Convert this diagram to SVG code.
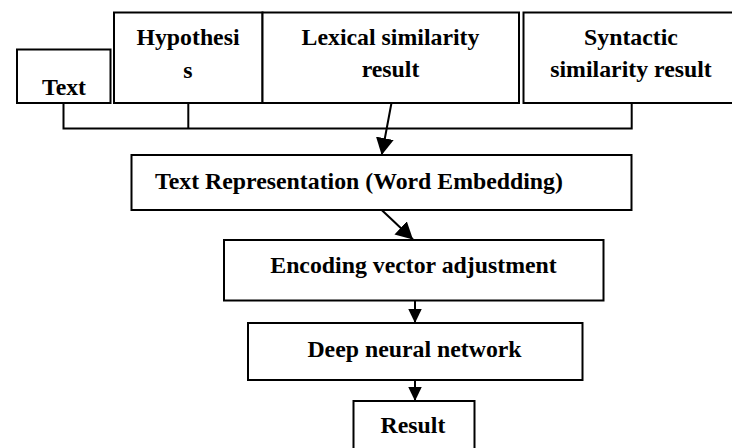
<svg xmlns="http://www.w3.org/2000/svg" width="732" height="448" viewBox="0 0 732 448">
  <style>
    .box { fill: #ffffff; stroke: #000000; stroke-width: 2; }
    .lbl { font-family: "Liberation Serif", "Times New Roman", serif; font-weight: bold; font-size: 23.8px; fill: #000000; text-anchor: middle; }
    .wire { fill: none; stroke: #000000; stroke-width: 2; }
  </style>
  <defs>
    <marker id="head" markerUnits="userSpaceOnUse" markerWidth="15" markerHeight="15" refX="14.5" refY="7" orient="auto">
      <path d="M0,0 L14.5,7 L0,14 z" fill="#000000"/>
    </marker>
    <marker id="headWide" markerUnits="userSpaceOnUse" markerWidth="18" markerHeight="19" refX="17" refY="9" orient="auto">
      <path d="M0,0 L17,9 L0,18 z" fill="#000000"/>
    </marker>
  </defs>
  <rect width="732" height="448" fill="#ffffff"/>

  <!-- connectors -->
  <g id="connectors">
    <polyline class="wire" points="63.5,103 63.5,128.5 631.7,128.5 631.7,103"/>
    <line class="wire" x1="188.3" y1="103" x2="188.3" y2="128.5"/>
    <line class="wire" x1="391.5" y1="103" x2="381.7" y2="155" marker-end="url(#headWide)"/>
    <line class="wire" x1="381.7" y1="210" x2="413" y2="239.5" marker-end="url(#headWide)"/>
    <line class="wire" x1="415" y1="300.5" x2="415" y2="323" marker-end="url(#head)"/>
    <line class="wire" x1="415" y1="380" x2="415" y2="401" marker-end="url(#head)"/>
  </g>

  <!-- input nodes -->
  <g id="text">
    <rect class="box" x="17" y="49.5" width="93.5" height="53.5"/>
    <text class="lbl" x="64" y="95">Text</text>
  </g>
  <g id="hypothesis">
    <rect class="box" x="114" y="12.5" width="148.5" height="90.5"/>
    <text class="lbl" x="188" y="45">Hypothesi</text>
    <text class="lbl" x="188" y="78">s</text>
  </g>
  <g id="lexical">
    <rect class="box" x="262.5" y="12.5" width="256.5" height="90.5"/>
    <text class="lbl" x="390.5" y="45">Lexical similarity</text>
    <text class="lbl" x="390.5" y="77">result</text>
  </g>
  <g id="syntactic">
    <rect class="box" x="523.5" y="12.5" width="220" height="90.5"/>
    <text class="lbl" x="631" y="45">Syntactic</text>
    <text class="lbl" x="631" y="77">similarity result</text>
  </g>

  <!-- processing chain -->
  <g id="representation">
    <rect class="box" x="131.5" y="155" width="500" height="55"/>
    <text class="lbl" x="359" y="189">Text Representation (Word Embedding)</text>
  </g>
  <g id="encoding">
    <rect class="box" x="224" y="240" width="379.5" height="60.5"/>
    <text class="lbl" x="413.5" y="273">Encoding vector adjustment</text>
  </g>
  <g id="dnn">
    <rect class="box" x="248" y="323" width="334.5" height="57"/>
    <text class="lbl" x="414.5" y="357">Deep neural network</text>
  </g>
  <g id="result">
    <rect class="box" x="353.5" y="401" width="121" height="60"/>
    <text class="lbl" x="413" y="433">Result</text>
  </g>
</svg>
